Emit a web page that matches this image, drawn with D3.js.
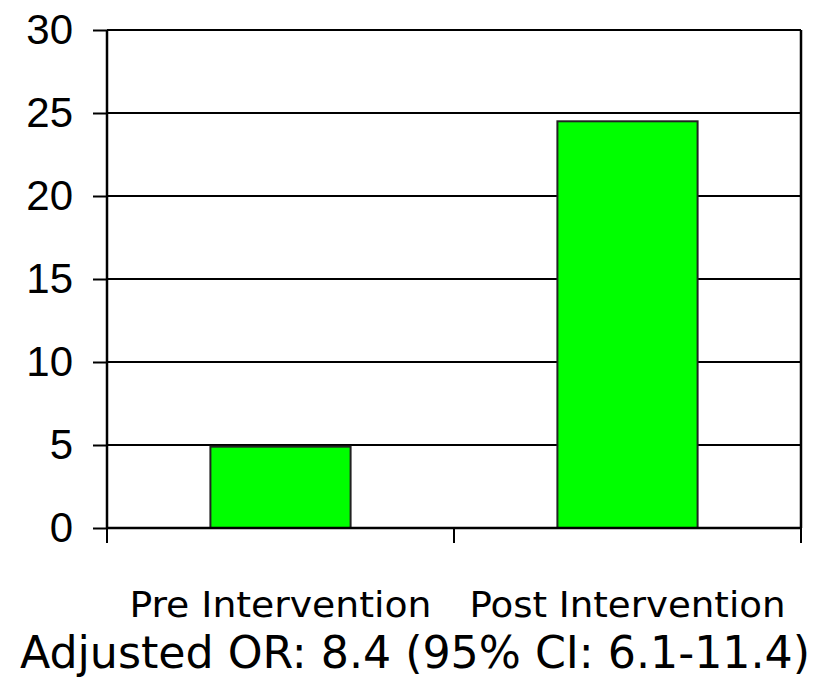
<!DOCTYPE html>
<html>
<head>
<meta charset="utf-8">
<script src="https://cdn.jsdelivr.net/npm/d3@7"></script>
<style>
  body { margin: 0; background: #fff; }
  svg { display: block; }
</style>
</head>
<body>
<div id="chart"></div>
<script>
// data
const categories = ['Pre Intervention', 'Post Intervention'];
const values = [4.9, 24.5];
const yTicks = [0, 5, 10, 15, 20, 25, 30];
const footnote = 'Adjusted OR: 8.4 (95% CI: 6.1-11.4)';

const width = 827, height = 683;
const margin = { top: 30, right: 26, bottom: 155, left: 107 };
const innerW = width - margin.left - margin.right;
const innerH = height - margin.top - margin.bottom;

const svg = d3.select('#chart')
  .append('svg')
  .attr('width', width)
  .attr('height', height);

const g = svg.append('g')
  .attr('transform', `translate(${margin.left},${margin.top})`);

const x = d3.scaleBand()
  .domain(categories)
  .range([0, innerW])
  .paddingInner(0)
  .paddingOuter(0);

const y = d3.scaleLinear()
  .domain([0, 30])
  .range([innerH, 0]);

// gridlines
g.selectAll('.grid')
  .data(yTicks)
  .enter()
  .append('line')
  .attr('x1', 0)
  .attr('x2', innerW)
  .attr('y1', d => y(d))
  .attr('y2', d => y(d))
  .attr('stroke', '#000')
  .attr('stroke-width', 2);

// right border
g.append('line')
  .attr('x1', innerW).attr('x2', innerW)
  .attr('y1', 0).attr('y2', innerH)
  .attr('stroke', '#000')
  .attr('stroke-width', 2.5);

// bars
const barW = x.bandwidth() * 0.404;
g.selectAll('.bar')
  .data(values)
  .enter()
  .append('rect')
  .attr('class', 'bar')
  .attr('x', (d, i) => x(categories[i]) + (x.bandwidth() - barW) / 2)
  .attr('width', barW)
  .attr('y', d => y(d))
  .attr('height', d => innerH - y(d))
  .attr('fill', '#00ff00')
  .attr('stroke', '#222')
  .attr('stroke-width', 2);

// y axis
const yAxis = g.append('g')
  .call(d3.axisLeft(y).tickValues(yTicks).tickSize(14).tickPadding(20));
yAxis.select('.domain').attr('stroke-width', 2.5).attr('d', `M0,0V${innerH}`);
yAxis.selectAll('.tick line').attr('stroke-width', 2);
yAxis.selectAll('.tick text')
  .attr('font-family', 'Liberation Sans, Arial, sans-serif')
  .attr('font-size', 42)
  .attr('fill', '#000');

// x axis: ticks at category boundaries
const xAxisG = g.append('g')
  .attr('transform', `translate(0,${innerH})`);
xAxisG.append('line')
  .attr('x1', 0).attr('x2', innerW)
  .attr('stroke', '#000').attr('stroke-width', 2.5);
const bounds = [0].concat(categories.map(c => x(c) + x.bandwidth()));
xAxisG.selectAll('.xtick')
  .data(bounds)
  .enter()
  .append('line')
  .attr('x1', d => d).attr('x2', d => d)
  .attr('y1', 0).attr('y2', 15)
  .attr('stroke', '#000').attr('stroke-width', 2);

// category labels
xAxisG.selectAll('.xlabel')
  .data(categories)
  .enter()
  .append('text')
  .attr('x', d => x(d) + x.bandwidth() / 2)
  .attr('y', 89)
  .attr('text-anchor', 'middle')
  .attr('font-family', 'DejaVu Sans Condensed, DejaVu Sans, sans-serif')
  .attr('font-size', 36)
  .attr('textLength', (d, i) => i === 0 ? 302 : 316)
  .attr('lengthAdjust', 'spacingAndGlyphs')
  .text(d => d);

// footnote
svg.append('text')
  .attr('x', 415)
  .attr('y', 668)
  .attr('text-anchor', 'middle')
  .attr('font-family', 'DejaVu Sans Condensed, DejaVu Sans, sans-serif')
  .attr('font-size', 45)
  .attr('textLength', 790)
  .attr('lengthAdjust', 'spacingAndGlyphs')
  .text(footnote);
</script>
</body>
</html>
